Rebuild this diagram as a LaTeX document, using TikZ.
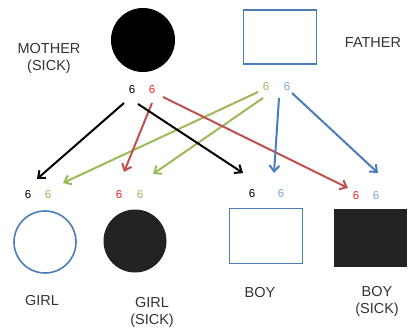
\documentclass[tikz,border=0pt]{standalone}
\usepackage{fontspec}
\setmainfont{Liberation Sans}
\usetikzlibrary{arrows.meta}
\definecolor{pblue}{HTML}{4A7EBB}
\definecolor{pgreen}{HTML}{9BBB59}
\definecolor{pred}{HTML}{C0504D}
\definecolor{tred}{HTML}{FF2020}
\definecolor{tblue}{HTML}{7FA3D4}
\definecolor{tgray}{HTML}{333333}
\definecolor{dfill}{HTML}{222222}
\tikzset{
  lbl/.style={font=\fontsize{14.5}{17}\selectfont, text=tgray, align=center, inner sep=0pt},
  al/.style={font=\fontsize{11.5}{13}\selectfont, inner sep=0pt},
  arr/.style={line width=2pt, -{Straight Barb[length=6pt,width=10pt,line width=2pt]}},
  femopen/.style={circle, draw=pblue, line width=1.6pt, fill=white, minimum size=62pt, inner sep=0pt},
  femsick/.style={circle, fill=dfill, draw=dfill, line width=1pt, minimum size=62pt, inner sep=0pt},
  malopen/.style={rectangle, draw=pblue, line width=1.8pt, fill=white, inner sep=0pt},
  malsick/.style={rectangle, fill=dfill, draw=dfill, line width=1pt, inner sep=0pt}
}
\begin{document}
\begin{tikzpicture}[x=1pt,y=-1pt]
\useasboundingbox (0,0) rectangle (409,331);
% parents
\node[femsick, fill=black, draw=black, minimum size=63pt] (mother) at (143,40) {};
\node[malopen, minimum width=73pt, minimum height=54pt] (father) at (280,37) {};
\node[lbl] (mlbl) at (49,58) {MOTHER\\(SICK)};
\node[lbl] (flbl) at (373,43) {FATHER};
% parent alleles
\node[al, text=black] (m1) at (132,90) {6};
\node[al, text=tred] (m2) at (152,90) {6};
\node[al, text=pgreen] (f1) at (266,87) {6};
\node[al, text=tblue] (f2) at (287,87) {6};
% child alleles
\node[al, text=black] (g1) at (28,195) {6};
\node[al, text=pgreen] (g2) at (48,195) {6};
\node[al, text=tred] (s1) at (119,195) {6};
\node[al, text=pgreen] (s2) at (140,195) {6};
\node[al, text=black] (b1) at (252,194) {6};
\node[al, text=tblue] (b2) at (281,194) {6};
\node[al, text=tred] (k1) at (356,196) {6};
\node[al, text=tblue] (k2) at (376,196) {6};
% children
\node[femopen] (girl) at (45,242) {};
\node[femsick] (girls) at (135,241) {};
\node[malopen, minimum width=73pt, minimum height=55pt] (boy) at (266,236) {};
\node[malsick, minimum width=72pt, minimum height=57pt] (boys) at (370,237.5) {};
\node[lbl] (glbl) at (42,301) {GIRL};
\node[lbl] (gslbl) at (152,312) {GIRL\\(SICK)};
\node[lbl] (blbl) at (260,293) {BOY};
\node[lbl] (bslbl) at (377,301) {BOY\\(SICK)};
% connector end points
\coordinate (a1) at (124,103);
\coordinate (a1e) at (37,179);
\coordinate (a2) at (138,104);
\coordinate (a2e) at (243,173);
\coordinate (a3) at (152,103);
\coordinate (a3e) at (124,172);
\coordinate (a4) at (163,97);
\coordinate (a4e) at (348,188);
\coordinate (a5) at (258,92);
\coordinate (a5e) at (63,183);
\coordinate (a6) at (263,98);
\coordinate (a6e) at (153,174);
\coordinate (a7) at (279,98);
\coordinate (a7e) at (274,173);
\coordinate (a8) at (292,93);
\coordinate (a8e) at (378,173);
% arrows
\draw[arr, pgreen] (a5) -- (a5e);
\draw[arr, pgreen] (a6) -- (a6e);
\draw[arr, pred] (a3) -- (a3e);
\draw[arr, pred] (a4) -- (a4e);
\draw[arr, black] (a1) -- (a1e);
\draw[arr, black] (a2) -- (a2e);
\draw[arr, pblue] (a7) -- (a7e);
\draw[arr, pblue] (a8) -- (a8e);
\end{tikzpicture}
\end{document}
